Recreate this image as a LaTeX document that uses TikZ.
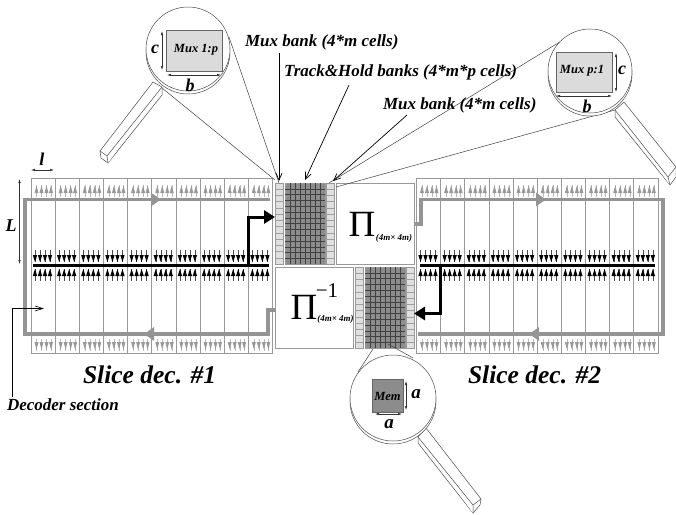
\documentclass[tikz,border=0pt]{standalone}
\usepackage{fontspec}
\setmainfont{Liberation Serif}
\usetikzlibrary{arrows.meta}
\definecolor{linegray}{gray}{0.6}
\definecolor{loopgray}{gray}{0.58}
\definecolor{cellfill}{gray}{0.88}
\definecolor{memfill}{gray}{0.55}
\definecolor{muxfill}{gray}{0.86}
\tikzset{
  every node/.style={inner sep=0pt,outer sep=0pt},
  lab/.style={font=\bfseries\itshape\fontsize{#1}{#1}\selectfont},
  boxn/.style={draw=linegray,line width=0.8pt,fill=white,anchor=north west},
  loopline/.style={draw=loopgray,line width=3.2pt,line join=miter},
  loopmid/.style={draw=loopgray,line width=3.2pt,-{Triangle[length=10pt,width=13pt]}},
  bus/.style={draw=black,line width=3pt},
  busarrow/.style={draw=black,line width=3pt,-{Triangle[length=11pt,width=13pt]},line join=miter},
  thin1/.style={draw=black!75,line width=0.5pt},
  dim/.style={draw=black!80,line width=0.5pt,{Latex[length=4pt,width=2.5pt]}-{Latex[length=4pt,width=2.5pt]}},
  pointer/.style={draw=black,line width=0.7pt,-{Straight Barb[length=7pt,width=6pt]}},
  mag/.style={draw=black!70,line width=0.5pt,fill=white},
}
% slice(x-left)
\newcommand{\slicebody}[1]{%
  \foreach \i in {0,...,9}{
    \pgfmathsetmacro{\xa}{#1+\i*24.15}
    \draw[draw=linegray,line width=0.8pt] (\xa,178) rectangle ++(24.15,175);
    \foreach \o in {5.5,10.5,15.5,20}{
      \pgfmathsetmacro{\xb}{\xa+\o}
      \draw[draw=gray!55,line width=0.4pt] (\xb,185) -- (\xb,197);
      \fill[gray!80] (\xb-2,193) -- (\xb,185.5) -- (\xb+2,193) -- cycle;
      \draw[draw=gray!55,line width=0.4pt] (\xb,339) -- (\xb,351);
      \fill[gray!80] (\xb-2,342) -- (\xb,349.5) -- (\xb+2,342) -- cycle;
    }
    \foreach \o in {4,9,14,19}{
      \pgfmathsetmacro{\xb}{\xa+\o}
      \draw[draw=black!70,line width=0.4pt] (\xb,250) -- (\xb,262);
      \fill[black] (\xb-2.2,255) -- (\xb,262) -- (\xb+2.2,255) -- cycle;
      \draw[draw=black!70,line width=0.4pt] (\xb,269) -- (\xb,281);
      \fill[black] (\xb-2.2,276) -- (\xb,269) -- (\xb+2.2,276) -- cycle;
    }
  }
}
% bank of cells: x, y, name
\newcommand{\muxbank}[3]{%
  \node[draw=linegray,line width=0.6pt,fill=cellfill,anchor=north west,minimum width=8pt,minimum height=81pt] (#3) at (#1,#2) {};
  \foreach \r in {1,...,12}{
    \draw[draw=gray!75,line width=0.5pt] (#1,#2+\r*6.23) -- (#1+8,#2+\r*6.23);
  }
}
\newcommand{\thbank}[3]{%
  \node[draw=linegray,line width=0.6pt,fill=memfill,anchor=north west,minimum width=40pt,minimum height=81pt] (#3) at (#1,#2) {};
  \foreach \r in {1,...,13}{
    \draw[draw=black!75,line width=0.5pt] (#1,#2+\r*5.8) -- (#1+40,#2+\r*5.8);
  }
  \foreach \c in {1,...,7}{
    \draw[draw=black!75,line width=0.5pt] (#1+\c*5,#2) -- (#1+\c*5,#2+81);
  }
}
\begin{document}
\begin{tikzpicture}[x=1pt,y=-1pt]
\useasboundingbox (0,0) rectangle (676,514);

% decoder slices
\slicebody{31}
\slicebody{416.5}

% loops and buses, slice 1
\coordinate (l1a) at (270,199.5); \coordinate (l1b) at (25,199.5);
\coordinate (l1c) at (25,334); \coordinate (l1d) at (268,334);
\coordinate (l1e) at (268,310); \coordinate (l1f) at (275,310);
\draw[loopline] (l1a) -- (l1b) -- (l1c) -- (l1d) -- (l1e) -- (l1f);
\coordinate (a1s) at (140,199.5); \coordinate (a1e) at (161,199.5);
\draw[loopmid] (a1s) -- (a1e);
\coordinate (a2s) at (165,334); \coordinate (a2e) at (144,334);
\draw[loopmid] (a2s) -- (a2e);
\coordinate (b1a) at (33,265); \coordinate (b1b) at (269,265);
\draw[bus] (b1a) -- (b1b);

% loops and buses, slice 2
\coordinate (l2a) at (414,224); \coordinate (l2b) at (421,224);
\coordinate (l2c) at (421,199.5); \coordinate (l2d) at (663,199.5);
\coordinate (l2e) at (663,334); \coordinate (l2f) at (418,334);
\draw[loopline] (l2a) -- (l2b) -- (l2c) -- (l2d) -- (l2e) -- (l2f);
\coordinate (a3s) at (525,199.5); \coordinate (a3e) at (546,199.5);
\draw[loopmid] (a3s) -- (a3e);
\coordinate (a4s) at (550,334); \coordinate (a4e) at (529,334);
\draw[loopmid] (a4s) -- (a4e);
\coordinate (b2a) at (420,265); \coordinate (b2b) at (655,265);
\draw[bus] (b2a) -- (b2b);

% centre blocks
\muxbank{275}{183}{muxA}
\thbank{285}{183}{thA}
\muxbank{326.5}{183}{muxB}
\node[boxn,minimum width=78pt,minimum height=81pt] (pi) at (336,183) {};
\node[boxn,minimum width=78pt,minimum height=81pt] (piinv) at (275,267) {};
\muxbank{355}{267}{muxC}
\thbank{365}{267}{thB}
\muxbank{406}{267}{muxD}

\node[font=\fontsize{37}{37}\selectfont] (pisym) at (362,224) {Π};
\node[lab=9] (pisub) at (394,238) {(4m× 4m)};
\node[font=\fontsize{37}{37}\selectfont] (piinvsym) at (304,307) {Π};
\node[font=\fontsize{21}{21}\selectfont] (piexp) at (327,291) {−1};
\node[lab=9] (piinvsub) at (335.5,319.5) {(4m× 4m)};

% black branch arrows
\coordinate (b1j) at (248,266.5); \coordinate (b1u) at (248,217);
\draw[busarrow] (b1j) -- (b1u) -- (muxA.west |- b1u);
\coordinate (b2j) at (440,263.5); \coordinate (b2u) at (440,313.5);
\draw[busarrow] (b2j) -- (b2u) -- (muxD.east |- b2u);

% zoom guide lines
\coordinate (z1a) at (229,37); \coordinate (z1b) at (162,88);
\coordinate (z2a) at (563,40); \coordinate (z2b) at (615,110);
\coordinate (z3a) at (358,372); \coordinate (z3b) at (413,358);
\coordinate (z1ta) at (279,183); \coordinate (z1tb) at (275,180);
\coordinate (z2ta) at (329,183); \coordinate (z2tb) at (336,187);
\coordinate (z3ta) at (373,349); \coordinate (z3tb) at (388,344);
\draw[thin1] (z1a) -- (z1ta);
\draw[thin1] (z1b) -- (z1tb);
\draw[thin1] (z2a) -- (z2ta);
\draw[thin1] (z2b) -- (z2tb);
\draw[thin1] (z3a) -- (z3ta);
\draw[thin1] (z3b) -- (z3tb);

% magnifier top left
\draw[mag] (153,82) -- (100,151) -- (101,158) -- (108,163) -- (162,95) -- (162,87) -- cycle;
\draw[mag] (162,87) -- (107,156) -- (108,163);
\draw[mag] (100,151) -- (107,156);
\draw[mag] (188,52) circle[radius=42];
\draw[mag] (188,49) circle[radius=42];
\node[draw=black!60,line width=0.6pt,fill=muxfill,anchor=north west,minimum width=56pt,minimum height=41pt] (m1) at (166,30) {};
\node[lab=12.5] (m1t) at (196,49.5) {Mux 1:p};
\coordinate (m1c1) at (162,31); \coordinate (m1c2) at (162,70);
\draw[dim] (m1c1) -- (m1c2);
\coordinate (m1b1) at (167,75); \coordinate (m1b2) at (221,75);
\draw[dim] (m1b1) -- (m1b2);
\node[lab=18] (m1c) at (155,49) {c};
\node[lab=18] (m1bl) at (190,85) {b};

% magnifier top right
\draw[mag] (624,102) -- (676,167) -- (676,177) -- (670,185) -- (615,117) -- (615,110) -- cycle;
\draw[mag] (615,110) -- (668,177) -- (670,185);
\draw[mag] (668,177) -- (676,167);
\draw[mag] (590,74) circle[radius=42];
\draw[mag] (590,71) circle[radius=42];
\node[draw=black!60,line width=0.6pt,fill=muxfill,anchor=north west,minimum width=56pt,minimum height=40pt] (m2) at (556,52) {};
\node[lab=12.5] (m2t) at (582,71) {Mux p:1};
\coordinate (m2c1) at (616,53); \coordinate (m2c2) at (616,92);
\draw[dim] (m2c1) -- (m2c2);
\coordinate (m2b1) at (556,96); \coordinate (m2b2) at (612,96);
\draw[dim] (m2b1) -- (m2b2);
\node[lab=18] (m2c) at (622,70) {c};
\node[lab=18] (m2bl) at (587,106) {b};

% magnifier bottom
\draw[mag] (426,428) -- (481,499) -- (480,505) -- (473,513) -- (418,443) -- (418,437) -- cycle;
\draw[mag] (418,437) -- (473,505) -- (473,513);
\draw[mag] (473,505) -- (481,499);
\draw[mag] (393,401) circle[radius=43];
\draw[mag] (393,398) circle[radius=43];
\node[draw=black!60,line width=0.6pt,fill=memfill,anchor=north west,minimum width=31pt,minimum height=33pt] (m3) at (372,379) {};
\node[lab=12.5] (m3t) at (387.5,396) {Mem};
\coordinate (m3c1) at (406,381); \coordinate (m3c2) at (406,410);
\draw[dim] (m3c1) -- (m3c2);
\coordinate (m3b1) at (375,414); \coordinate (m3b2) at (402,414);
\draw[dim] (m3b1) -- (m3b2);
\node[lab=19] (m3c) at (416,394) {a};
\node[lab=19] (m3bl) at (389,424) {a};

% labels with pointers
\node[lab=17,anchor=west] (t1) at (245,42) {Mux bank (4*m cells)};
\node[lab=17,anchor=west] (t2) at (284,72) {Track\&Hold banks (4*m*p cells)};
\node[lab=17,anchor=west] (t3) at (383,105) {Mux bank (4*m cells)};
\coordinate (p1) at (279,53); \coordinate (p1e) at (279,181);
\draw[pointer] (p1) -- (p1e);
\coordinate (p2) at (349,85); \coordinate (p2e) at (305,180);
\draw[pointer] (p2) -- (p2e);
\coordinate (p3) at (407,115); \coordinate (p3e) at (333,181);
\draw[pointer] (p3) -- (p3e);

% dimension marks
\node[lab=18] (ll) at (42,159) {l};
\node[lab=18] (LL) at (11,226) {L};
\coordinate (d1) at (31,170); \coordinate (d2) at (54,170);
\draw[dim] (d1) -- (d2);
\coordinate (d3) at (19.5,179); \coordinate (d4) at (19.5,264);
\draw[dim] (d3) -- (d4);

% slice titles
\node[lab=25.5,anchor=west] (s1) at (83,375) {Slice dec. \#1};
\node[lab=25.5,anchor=west] (s2) at (468,375) {Slice dec. \#2};

% decoder section
\node[lab=17,anchor=west] (ds) at (7,405) {Decoder section};
\coordinate (dsa) at (12,397); \coordinate (dsb) at (12,308.5); \coordinate (dsc) at (44,308.5);
\draw[draw=black,line width=0.6pt,-{Straight Barb[length=8pt,width=5pt]}] (dsa) -- (dsb) -- (dsc);
\end{tikzpicture}
\end{document}
